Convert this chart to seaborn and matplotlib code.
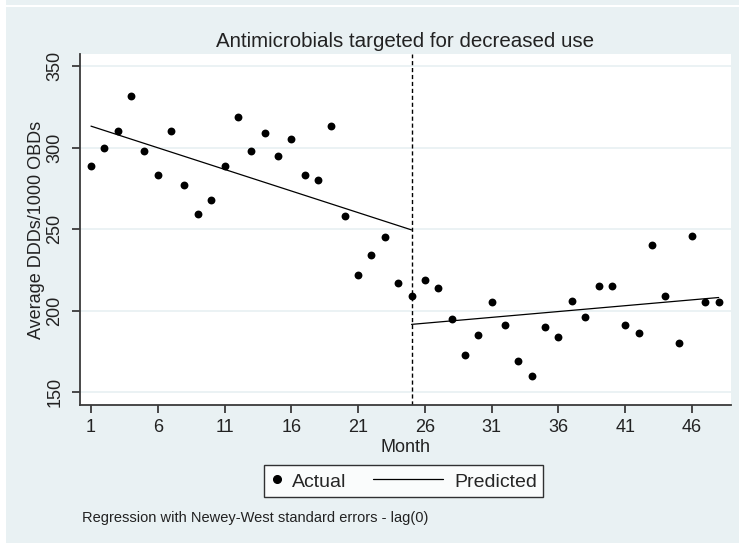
import numpy as np
import pandas as pd
import matplotlib
matplotlib.use("Agg")
import matplotlib.pyplot as plt
import seaborn as sns
from matplotlib.lines import Line2D
from matplotlib.patches import Rectangle
from matplotlib.legend_handler import HandlerLine2D

# ── Dados ────────────────────────────────────────────────
months = list(range(1, 49))
actual = [289, 300, 310, 332, 298, 283, 310, 277, 259, 268,
          289, 319, 298, 309, 295, 305, 283, 280, 313, 258,
          222, 234, 245, 217, 209, 219, 214, 195, 173, 185,
          205, 191, 169, 160, 190, 184, 206, 196, 215, 215,
          191, 186, 240, 209, 180, 246, 205, 205]

pred_months_pre = [1, 25]
pred_pre = [313.2, 249.5]
pred_months_post = [25, 48]
pred_post = [191.5, 208.0]

intervention = 25
x_ticks = [1, 6, 11, 16, 21, 26, 31, 36, 41, 46]
y_ticks = [150, 200, 250, 300, 350]

BG = "#E9F1F3"
TXT = "#222222"


class LongLineHandler(HandlerLine2D):
    # linha da legenda mais comprida, estendida para a esquerda
    def create_artists(self, legend, orig_handle, xdescent, ydescent,
                       width, height, fontsize, trans):
        left = 3.05 * fontsize
        trim = 0.16 * fontsize
        return super().create_artists(legend, orig_handle, xdescent + left,
                                      ydescent, width + left - trim, height,
                                      fontsize, trans)


df = pd.DataFrame({"month": months, "ddd": actual})
pre = pd.DataFrame({"month": pred_months_pre, "pred": pred_pre})
post = pd.DataFrame({"month": pred_months_post, "pred": pred_post})

sns.set_theme(style="white")
plt.rcParams["font.family"] = ["Liberation Sans", "DejaVu Sans"]

fig = plt.figure(figsize=(7.39, 5.43), dpi=100, facecolor=BG)
ax = fig.add_axes([0.1083, 0.2541, 0.8805, 0.6465])
ax.set_facecolor("white")

# moldura da captura de tela
fig.patches.append(Rectangle((0, 0), 6 / 739, 1, transform=fig.transFigure,
                             facecolor="white", edgecolor="none", zorder=-1))
fig.patches.append(Rectangle((0, 1 - 7 / 543), 1, 2 / 543, transform=fig.transFigure,
                             facecolor="white", edgecolor="none", zorder=-1))

for yt in y_ticks:
    ax.axhline(yt, color=BG, lw=1.3, zorder=0)

sns.scatterplot(data=df, x="month", y="ddd", ax=ax, color="black", s=32,
                linewidth=0, legend=False, zorder=3)
sns.lineplot(data=pre, x="month", y="pred", ax=ax, color="black", lw=0.9,
             legend=False, zorder=2)
sns.lineplot(data=post, x="month", y="pred", ax=ax, color="black", lw=0.9,
             legend=False, zorder=2)
ax.axvline(intervention, color="black", lw=1.0, linestyle=(0, (3, 2)), zorder=1)

ax.set_xlim(0.18, 48.9)
ax.set_ylim(142, 357.5)
ax.set_xticks(x_ticks)
ax.set_yticks(y_ticks)
ax.set_yticklabels([str(v) for v in y_ticks], rotation=90, va="center")

for s in ["top", "right"]:
    ax.spines[s].set_visible(False)
for s in ["left", "bottom"]:
    ax.spines[s].set_color("#3a3a3a")
    ax.spines[s].set_linewidth(1.3)

ax.tick_params(axis="both", which="major", direction="out", length=6, width=1.3,
               color="#3a3a3a", labelsize=13, labelcolor=TXT,
               bottom=True, left=True)
ax.tick_params(axis="x", pad=4)
ax.tick_params(axis="y", pad=6)

ax.set_xlabel("Month", fontsize=13, color=TXT, labelpad=2)
ax.set_ylabel("Average DDDs/1000 OBDs", fontsize=13, color=TXT, labelpad=1)
ax.set_title("Antimicrobials targeted for decreased use", fontsize=14.8,
             color=TXT, pad=5)

h_actual = Line2D([], [], marker="o", color="black", linestyle="none", markersize=5.5)
h_pred = Line2D([], [], color="black", lw=0.9)
leg = fig.legend([h_actual, h_pred], ["Actual", "Predicted"], loc="upper left",
                 bbox_to_anchor=(264 / 739, 1 - 465 / 543), ncol=2, fontsize=14,
                 frameon=True, fancybox=False, handlelength=0.7, handleheight=1.15,
                 handletextpad=0.42, columnspacing=4.43, borderpad=0.3,
                 borderaxespad=0, handler_map={h_pred: LongLineHandler()})
leg.get_frame().set_edgecolor("black")
leg.get_frame().set_linewidth(1.0)
leg.get_frame().set_facecolor("white")

fig.text(82 / 739, 1 - 518 / 543, "Regression with Newey-West standard errors - lag(0)",
         fontsize=10.5, color=TXT, va="center", ha="left")

fig.savefig("out.png", dpi=100, facecolor=fig.get_facecolor())
